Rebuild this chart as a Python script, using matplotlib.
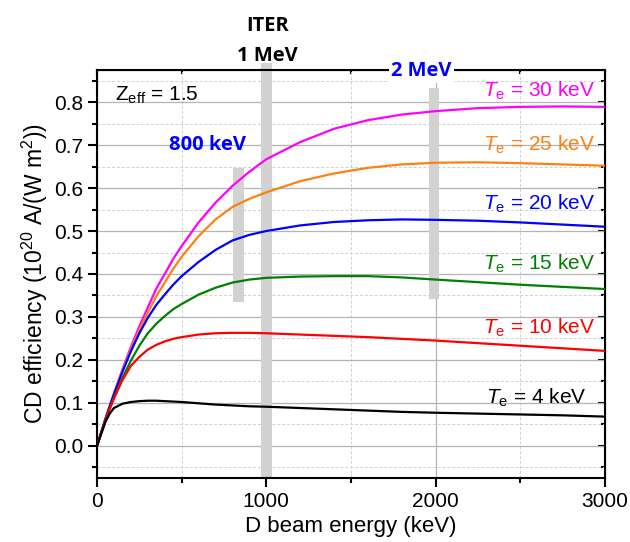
import matplotlib
matplotlib.use("Agg")
import matplotlib.pyplot as plt
from matplotlib.patches import Rectangle
from matplotlib.ticker import MultipleLocator, FormatStrFormatter

plt.rcParams["font.family"] = ["Liberation Sans", "DejaVu Sans"]
plt.rcParams["mathtext.fontset"] = "custom"
plt.rcParams["mathtext.rm"] = "Liberation Sans"
plt.rcParams["mathtext.it"] = "Liberation Sans:italic"

# beam energy grid (keV)
energy = [0, 25, 50, 75, 100, 150, 200, 250, 300, 350, 400, 450, 500, 600, 700, 800, 900,
          1000, 1200, 1400, 1600, 1800, 2000, 2250, 2500, 2750, 3000]

# CD efficiency (1e20 A/(W m^2)) for each electron temperature
eff_30 = [0, 0.032, 0.063, 0.093, 0.122, 0.178, 0.230, 0.278, 0.322, 0.366, 0.400, 0.435, 0.465,
          0.520, 0.566, 0.605, 0.638, 0.667, 0.707, 0.738, 0.758, 0.771, 0.779, 0.786, 0.789,
          0.790, 0.789]
eff_25 = [0, 0.032, 0.063, 0.092, 0.120, 0.175, 0.225, 0.270, 0.310, 0.348, 0.380, 0.412, 0.440,
          0.488, 0.527, 0.556, 0.575, 0.590, 0.616, 0.634, 0.647, 0.655, 0.659, 0.660, 0.658,
          0.655, 0.652]
eff_20 = [0, 0.032, 0.063, 0.092, 0.120, 0.172, 0.220, 0.262, 0.298, 0.328, 0.352, 0.375, 0.395,
          0.428, 0.456, 0.478, 0.491, 0.500, 0.513, 0.521, 0.525, 0.527, 0.526, 0.524, 0.520,
          0.515, 0.510]
eff_15 = [0, 0.031, 0.060, 0.087, 0.112, 0.158, 0.198, 0.233, 0.262, 0.284, 0.302, 0.318, 0.330,
          0.352, 0.368, 0.380, 0.387, 0.391, 0.394, 0.395, 0.395, 0.392, 0.387, 0.381, 0.375,
          0.370, 0.365]
eff_10 = [0, 0.030, 0.058, 0.086, 0.110, 0.153, 0.186, 0.207, 0.224, 0.235, 0.243, 0.249, 0.253,
          0.259, 0.262, 0.263, 0.263, 0.262, 0.259, 0.256, 0.253, 0.249, 0.245, 0.239, 0.233,
          0.227, 0.221]
eff_4 = [0, 0.028, 0.056, 0.075, 0.088, 0.098, 0.102, 0.104, 0.105, 0.105, 0.104, 0.103, 0.102,
         0.099, 0.096, 0.094, 0.092, 0.091, 0.088, 0.085, 0.082, 0.079, 0.077, 0.075, 0.073,
         0.071, 0.068]

series = [eff_30, eff_25, eff_20, eff_15, eff_10, eff_4]
temps = [30, 25, 20, 15, 10, 4]
colors = ["#ff00ff", "#ff8010", "#0000ff", "#008000", "#ff0000", "#000000"]
label_y = [0.813, 0.688, 0.550, 0.409, 0.262, 0.099]
label_x = [2945, 2945, 2945, 2945, 2945, 2890]

# shaded beam-energy markers: (left, right, bottom, top)
bands = [(803, 866, 0.334, 0.647), (971, 1036, -0.075, 0.892), (1961, 2020, 0.341, 0.832)]

fig = plt.figure(figsize=(6.3, 5.42), dpi=100)
ax = fig.add_axes([0.154, 0.118, 0.806, 0.753])

for x0, x1, y0, y1 in bands:
    ax.add_patch(Rectangle((x0, y0), x1 - x0, y1 - y0, facecolor="#d2d2d2",
                           edgecolor="none", zorder=1, clip_on=False))

for vals, c in zip(series, colors):
    ax.plot(energy, vals, color=c, lw=1.6, zorder=3)

for t, c, lx, ly in zip(temps, colors, label_x, label_y):
    ax.text(lx, ly, r"$T_{\mathrm{e}}$ = %d keV" % t, color=c, fontsize=15,
            ha="right", va="baseline", zorder=4)

bold = dict(family=["Open Sans", "DejaVu Sans"], fontweight="bold", fontsize=14.5,
            ha="center", va="baseline")
ax.text(105, 0.804, r"Z$_{\mathrm{eff}}$ = 1.5", fontsize=15, va="baseline")
ax.text(651, 0.688, "800 keV", color="#0000ff", **bold)
ax.text(1005, 0.965, "ITER", **bold)
ax.text(1005, 0.895, "1 MeV", **bold)
ax.text(1918, 0.860, "2 MeV", color="#0000ff", zorder=10,
        bbox=dict(facecolor="white", edgecolor="none", pad=1.5), **bold)

ax.set_xlim(0, 3000)
ax.set_ylim(-0.075, 0.875)
ax.xaxis.set_major_locator(MultipleLocator(1000))
ax.xaxis.set_minor_locator(MultipleLocator(500))
ax.yaxis.set_major_locator(MultipleLocator(0.1))
ax.yaxis.set_minor_locator(MultipleLocator(0.05))
ax.yaxis.set_major_formatter(FormatStrFormatter("%.1f"))

ax.grid(which="major", color="#b4b4b4", lw=0.9, zorder=0)
ax.grid(which="minor", color="#d0d0d0", lw=0.7, ls=(0, (3, 2)), zorder=0)
ax.set_axisbelow(True)

ax.tick_params(which="both", direction="out", width=1.5, labelsize=15,
               top=False, right=False)
ax.tick_params(which="major", length=6.5)
ax.tick_params(which="minor", length=3.5)
for sp in ax.spines.values():
    sp.set_linewidth(1.5)

# inward ticks along the top and right edges
ax_top = ax.secondary_xaxis("top")
ax_top.xaxis.set_major_locator(MultipleLocator(1000))
ax_top.xaxis.set_minor_locator(MultipleLocator(500))
ax_top.tick_params(which="both", direction="in", width=1.5, labeltop=False)
ax_top.tick_params(which="major", length=5)
ax_top.tick_params(which="minor", length=3)
ax_right = ax.secondary_yaxis("right")
ax_right.yaxis.set_major_locator(MultipleLocator(0.1))
ax_right.yaxis.set_minor_locator(MultipleLocator(0.05))
ax_right.tick_params(which="both", direction="in", width=1.5, labelright=False)
ax_right.tick_params(which="major", length=5)
ax_right.tick_params(which="minor", length=3)

ax.set_xlabel("D beam energy (keV)", fontsize=16, labelpad=4)
ax.set_ylabel(r"CD efficiency (10$^{20}$ A/(W m$^{2}$))", fontsize=16.5, labelpad=3)

fig.savefig("out.png", dpi=100)
